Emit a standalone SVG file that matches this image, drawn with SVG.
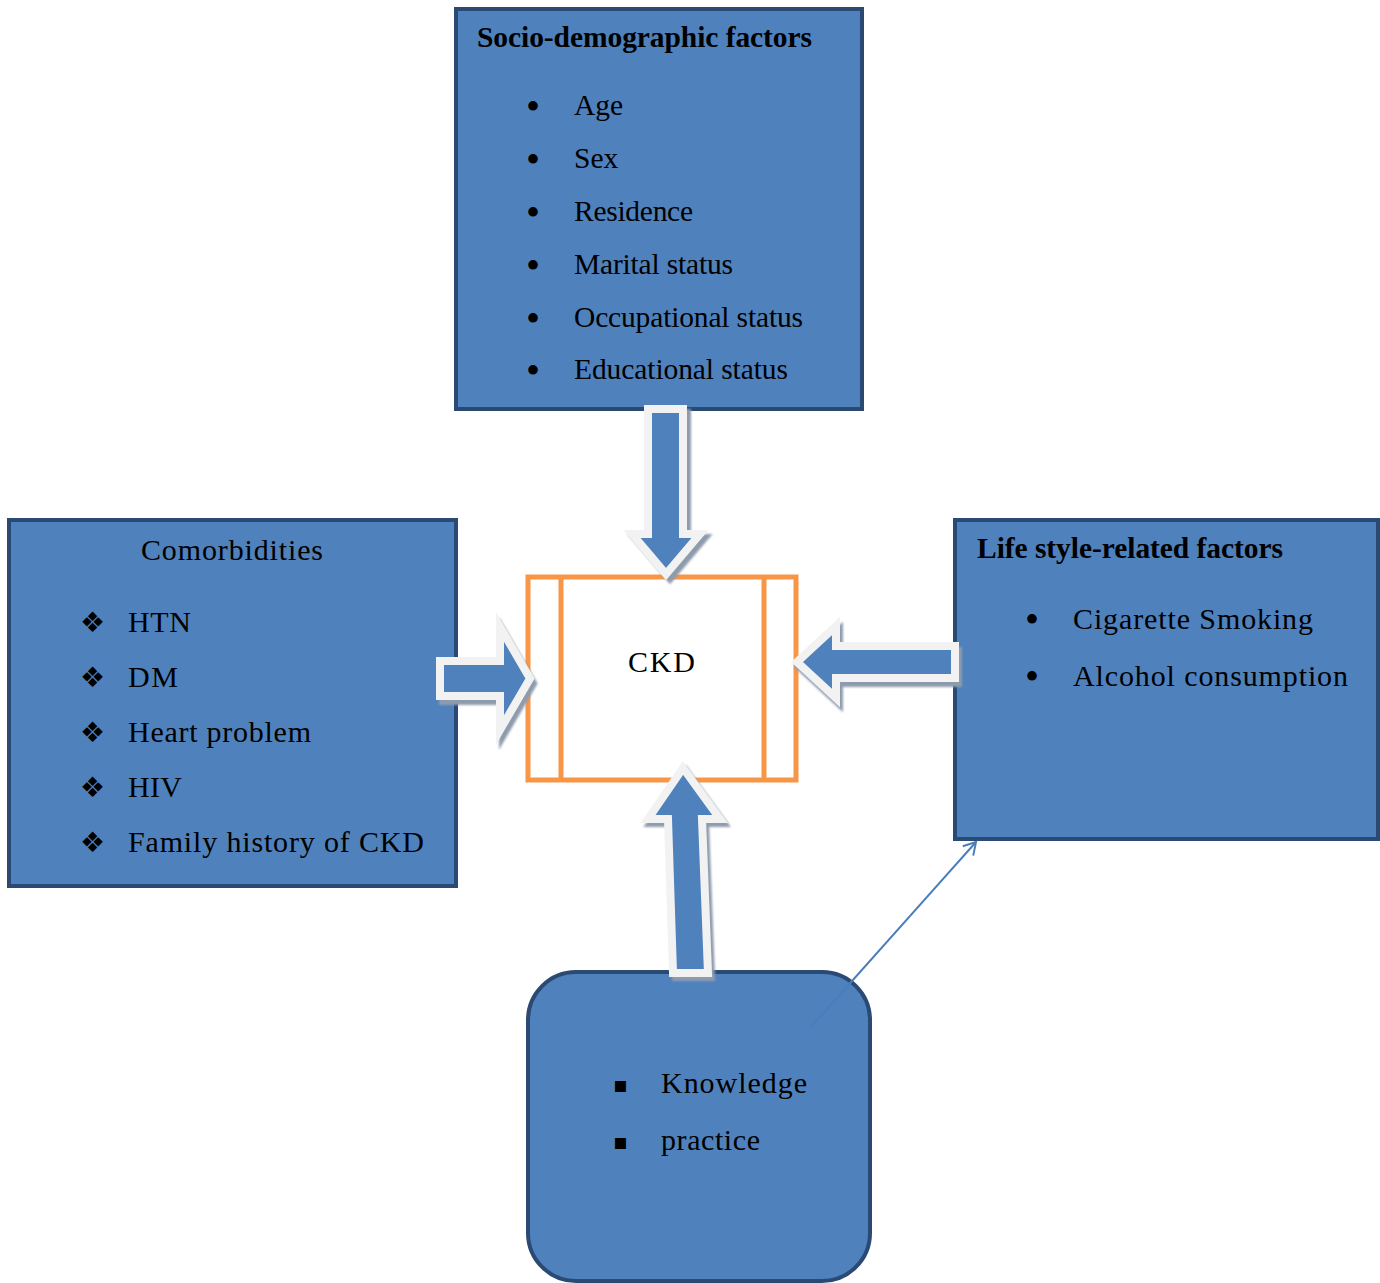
<svg xmlns="http://www.w3.org/2000/svg" width="1380" height="1283" viewBox="0 0 1380 1283">
<style>
.box{fill:#4F81BD;stroke:#2A4A74;stroke-width:4}
.t{font-family:"Liberation Serif","Times New Roman",serif;font-size:29.5px;fill:#000}
.w{font-size:30px}
.b{font-weight:bold}
.bul{font-family:"Liberation Serif","Times New Roman",serif;font-size:40px;fill:#000}
.sym{font-family:"DejaVu Sans",sans-serif;fill:#000}
.arrow{fill:#4F81BD;stroke:#F2F2F2;stroke-width:8;stroke-linejoin:miter;stroke-miterlimit:10}
.shadow{fill:#8E9BAD;stroke:#8E9BAD;stroke-width:8;stroke-linejoin:miter;stroke-miterlimit:10}
</style>
<defs>
<marker id="open" markerWidth="16" markerHeight="16" refX="14" refY="8" orient="auto" markerUnits="userSpaceOnUse">
<path d="M2,1 L14,8 L2,15" fill="none" stroke="#4A7EBB" stroke-width="2"/>
</marker>
<filter id="blur" x="-10%" y="-10%" width="120%" height="120%"><feGaussianBlur stdDeviation="1"/></filter>
</defs>
<rect width="1380" height="1283" fill="#fff"/>

<g id="socio">
<rect class="box" x="456" y="9" width="406" height="400"/>
<text class="t b" x="477" y="47" textLength="335" lengthAdjust="spacing">Socio-demographic factors</text>
<g class="bul" text-anchor="middle">
<text x="533" y="120">•</text>
<text x="533" y="173">•</text>
<text x="533" y="226">•</text>
<text x="533" y="279">•</text>
<text x="533" y="332">•</text>
<text x="533" y="384">•</text>
</g>
<g class="t">
<text x="574" y="115">Age</text>
<text x="574" y="168">Sex</text>
<text x="574" y="221" textLength="119" lengthAdjust="spacing">Residence</text>
<text x="574" y="274" textLength="159" lengthAdjust="spacing">Marital status</text>
<text x="574" y="327" textLength="229" lengthAdjust="spacing">Occupational status</text>
<text x="574" y="379" textLength="214" lengthAdjust="spacing">Educational status</text>
</g>
</g>

<g id="comorbidities">
<rect class="box" x="9" y="520" width="447" height="366"/>
<text class="t w" x="141" y="560" textLength="182" lengthAdjust="spacing">Comorbidities</text>
<g class="sym" font-size="28">
<text x="80" y="632">❖</text>
<text x="80" y="687">❖</text>
<text x="80" y="742">❖</text>
<text x="80" y="797">❖</text>
<text x="80" y="852">❖</text>
</g>
<g class="t w">
<text x="128" y="632" textLength="63" lengthAdjust="spacing">HTN</text>
<text x="128" y="687" textLength="50" lengthAdjust="spacing">DM</text>
<text x="128" y="742" textLength="183" lengthAdjust="spacing">Heart problem</text>
<text x="128" y="797" textLength="54" lengthAdjust="spacing">HIV</text>
<text x="128" y="852" textLength="296" lengthAdjust="spacing">Family history of CKD</text>
</g>
</g>

<g id="lifestyle">
<rect class="box" x="955" y="520" width="423" height="319"/>
<text class="t b" x="977" y="558" textLength="306" lengthAdjust="spacing">Life style-related factors</text>
<g class="bul" text-anchor="middle">
<text x="1032" y="633">•</text>
<text x="1032" y="690">•</text>
</g>
<g class="t w">
<text x="1073" y="629" textLength="240" lengthAdjust="spacing">Cigarette Smoking</text>
<text x="1073" y="686" textLength="275" lengthAdjust="spacing">Alcohol consumption</text>
</g>
</g>

<g id="knowledge">
<rect class="box" x="528" y="972" width="342" height="309" rx="48" ry="48"/>
<g class="sym" font-size="22">
<text x="613" y="1092">▪</text>
<text x="613" y="1149">▪</text>
</g>
<g class="t w">
<text x="661" y="1093" textLength="146" lengthAdjust="spacing">Knowledge</text>
<text x="661" y="1150" textLength="99" lengthAdjust="spacing">practice</text>
</g>
</g>

<g id="ckd">
<rect x="528" y="577" width="268" height="203" fill="#fff" stroke="#F79646" stroke-width="5"/>
<line x1="561" y1="577" x2="561" y2="780" stroke="#F79646" stroke-width="5"/>
<line x1="764" y1="577" x2="764" y2="780" stroke="#F79646" stroke-width="5"/>
<text class="t w" x="628" y="672" textLength="67" lengthAdjust="spacing">CKD</text>
</g>

<g id="connectors">
<g filter="url(#blur)">
<polygon class="shadow" transform="translate(4,4)" points="648,409 683,409 683,534 700,534 666,574 632,534 648,534"/>
<polygon class="shadow" transform="translate(3,5)" points="440,661 500,661 500,627 530,678.5 500,730 500,696 440,696"/>
<polygon class="shadow" transform="translate(3,5)" points="955,646 836,646 836,626 797,662 836,698 836,678 955,678"/>
<polygon class="shadow" transform="translate(3,4)" points="683,768 720,819 702,819 708,973 673,973 668,819 648,819"/>
</g>
<polygon class="arrow" points="648,409 683,409 683,534 700,534 666,574 632,534 648,534"/>
<polygon class="arrow" points="440,661 500,661 500,627 530,678.5 500,730 500,696 440,696"/>
<polygon class="arrow" points="955,646 836,646 836,626 797,662 836,698 836,678 955,678"/>
<polygon class="arrow" points="683,768 720,819 702,819 708,973 673,973 668,819 648,819"/>
<line x1="811" y1="1027" x2="976" y2="842" stroke="#4A7EBB" stroke-width="2" marker-end="url(#open)"/>
</g>
</svg>
